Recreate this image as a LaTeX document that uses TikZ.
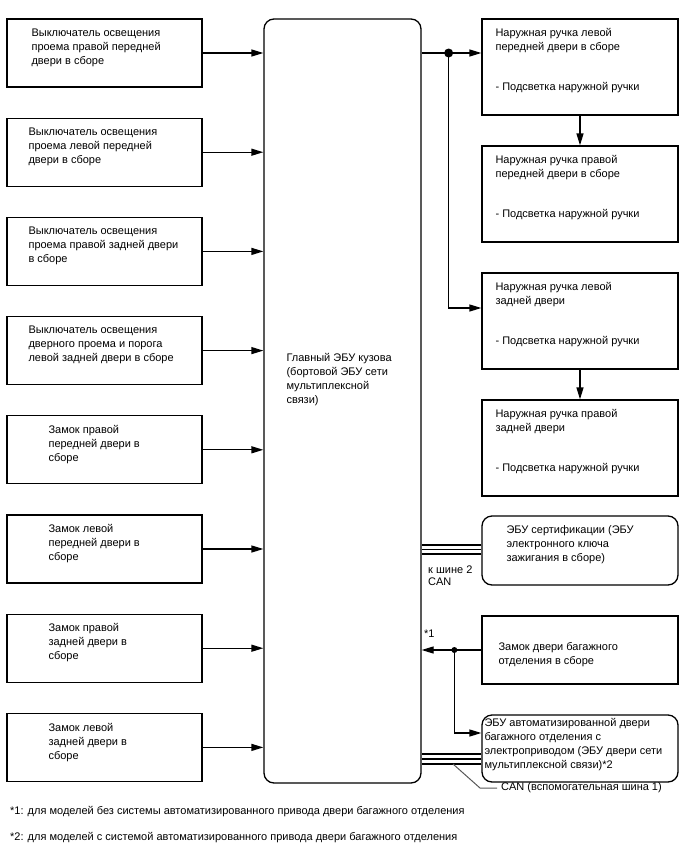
\documentclass[tikz,border=0pt]{standalone}
\usepackage{fontspec}
\setmainfont{Liberation Sans}
\usetikzlibrary{arrows.meta, positioning, calc}

\begin{document}
\begin{tikzpicture}[x=1pt, y=-1pt, font=\fontsize{11}{14}\selectfont,
    blok/.style={draw, line width=1.3pt, inner sep=0pt, minimum width=195pt, minimum height=68pt},
    blokr/.style={blok, rounded corners=10pt, minimum width=196pt},
    texto/.style={anchor=north west, align=left, inner sep=0pt},
    flecha/.style={line width=1.3pt, -{Triangle[length=12pt, width=7pt]}},
    bus/.style={line width=1.8pt},
    guia/.style={draw=black!65, line width=1pt}]

\useasboundingbox (0,0) rectangle (688,852);

% ================= ЭБУ КУЗОВА =================
\node[blok, rounded corners=10pt, minimum width=157pt, minimum height=764pt] (ebu) at (342.5,401) {};
\node[texto] (ebu-t) at ([shift={(23,335)}]ebu.north west)
    {Главный ЭБУ кузова\\(бортовой ЭБУ сети\\мультиплексной\\связи)};

% ================= ВХОДЫ (слева) =================
\foreach \i/\dx/\txt in {
    0/25/{Выключатель освещения\\проема правой передней\\двери в сборе},
    1/22/{Выключатель освещения\\проема левой передней\\двери в сборе},
    2/22/{Выключатель освещения\\проема правой задней двери\\в сборе},
    3/22/{Выключатель освещения\\дверного проема и порога\\левой задней двери в сборе},
    4/42/{Замок правой\\передней двери в\\сборе},
    5/42/{Замок левой\\передней двери в\\сборе},
    6/42/{Замок правой\\задней двери в\\сборе},
    7/42/{Замок левой\\задней двери в\\сборе}}
{
    \node[blok] (L\i) at (104.5,53+99.2*\i) {};
    \node[texto] (L\i-t) at ([shift={(\dx,10)}]L\i.north west) {\txt};
    \draw[flecha] (L\i.east) -- (L\i.east -| ebu.west);
}

% ================= РУЧКИ ДВЕРЕЙ (справа) =================
\foreach \i/\txt in {
    0/{Наружная ручка левой\\передней двери в сборе},
    1/{Наружная ручка правой\\передней двери в сборе},
    2/{Наружная ручка левой\\задней двери},
    3/{Наружная ручка правой\\задней двери}}
{
    \node[blok, minimum width=196pt, minimum height=96pt] (R\i) at (580,67+127*\i) {};
    \node[texto] (R\i-t) at ([shift={(14,10)}]R\i.north west)
        {\txt\\[26pt]- Подсветка наружной ручки};
}
\draw[flecha] (R0) -- (R1);
\draw[flecha] (R2) -- (R3);

\coordinate (a0) at ($(R0.west)+(0,-14)$);
\coordinate (a2) at ($(R2.west)+(0,-13)$);
\coordinate (d1) at ($(ebu.east |- a0)+(27,0)$);
\draw[flecha] (ebu.east |- a0) -- (a0);
\draw[flecha] (d1) |- (a2);
\fill (d1) circle (4.5pt);

% ================= ЭБУ сертификации, шина 2 CAN =================
\node[blokr, minimum height=69pt] (cert) at (580,550.5) {};
\node[texto] (cert-t) at ([shift={(25,10)}]cert.north west)
    {ЭБУ сертификации (ЭБУ\\электронного ключа\\зажигания в сборе)};
\foreach \s in {-5.5,-1,3.5}
    \draw[bus] ($(cert.west)+(0,\s)$) -- ($(cert.west -| ebu.east)+(0,\s)$);
\node[texto, font=\fontsize{11}{12}\selectfont] (can2) at (428,566) {к шине 2\\CAN};

% ================= ЗАМОК ДВЕРИ БАГАЖНОГО ОТДЕЛЕНИЯ =================
\node[blok, minimum width=196pt] (trunk) at (580,650) {};
\node[texto] (trunk-t) at ([shift={(17,27)}]trunk.north west)
    {Замок двери багажного\\отделения в сборе};
\draw[flecha] (trunk.west) -- (trunk.west -| ebu.east);
\node[anchor=west, inner sep=0pt] (n1) at (424,634) {*1};

\node[blokr, minimum height=67pt] (pdv) at (580,748.5) {};
\node[texto] (pdv-t) at ([shift={(3,4)}]pdv.north west)
    {ЭБУ автоматизированной двери\\багажного отделения с\\электроприводом (ЭБУ двери сети\\мультиплексной связи)*2};

\coordinate (d2) at ($(trunk.west)+(-27,0)$);
\draw[flecha] (d2) |- ($(pdv.west)+(0,-15.5)$);
\fill (d2) circle (3pt);

\foreach \s in {5.5,10.5,15.5}
    \draw[bus] ($(pdv.west)+(0,\s)$) -- ($(pdv.west -| ebu.east)+(0,\s)$);

% CAN (вспомогательная шина 1)
\coordinate (canpt) at (453,764);
\node[anchor=west, inner sep=0pt] (can1) at (501,788) {CAN (вспомогательная шина 1)};
\draw[guia] (canpt) -- ($(can1.west)+(-21,0)$) -- ($(can1.west)+(-4,0)$);

% примечания
\node[anchor=west, inner sep=0pt] (fn1) at (10,812)
    {*1: для моделей без системы автоматизированного привода двери багажного отделения};
\node[anchor=west, inner sep=0pt] (fn2) at (10,838)
    {*2: для моделей с системой автоматизированного привода двери багажного отделения};

\end{tikzpicture}
\end{document}
